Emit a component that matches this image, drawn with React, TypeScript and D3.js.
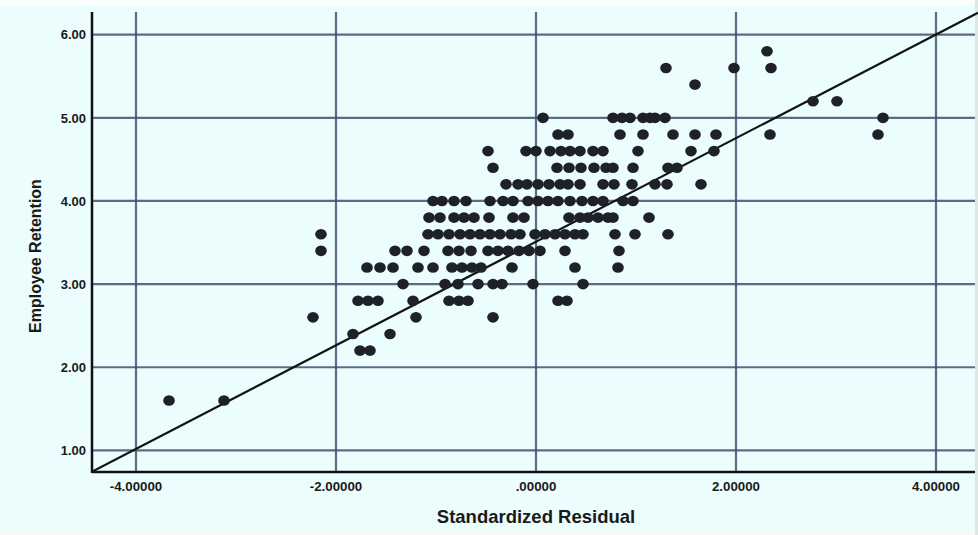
import React, { useEffect, useRef } from 'react';
import * as d3 from 'd3';

// Employee Retention (y) vs Standardized Residual (x), points grouped by retention level
const retentionLevels = [5.8, 5.6, 5.4, 5.2, 5.0, 4.8, 4.6, 4.4, 4.2, 4.0, 3.8, 3.6, 3.4, 3.2, 3.0, 2.8, 2.6, 2.4, 2.2, 1.6];
const residualsByLevel = [
  [2.31],
  [1.3, 1.98, 2.35],
  [1.59],
  [2.77, 3.01],
  [0.07, 0.77, 0.86, 0.94, 1.07, 1.14, 1.19, 1.29, 3.47],
  [0.22, 0.32, 0.84, 1.07, 1.37, 1.59, 1.8, 2.34, 3.42],
  [-0.48, -0.1, 0.0, 0.14, 0.25, 0.34, 0.44, 0.57, 0.67, 1.02, 1.55, 1.78],
  [-0.43, 0.21, 0.33, 0.45, 0.58, 0.7, 0.77, 0.97, 1.32, 1.41],
  [-0.3, -0.18, -0.09, 0.02, 0.13, 0.24, 0.32, 0.44, 0.67, 0.78, 0.96, 1.19, 1.31, 1.65],
  [-1.03, -0.94, -0.82, -0.7, -0.46, -0.33, -0.23, -0.08, 0.02, 0.12, 0.22, 0.34, 0.46, 0.57, 0.67, 0.87, 0.97],
  [-1.07, -0.96, -0.82, -0.72, -0.62, -0.47, -0.23, -0.12, 0.33, 0.44, 0.52, 0.62, 0.72, 0.77, 1.13],
  [-2.15, -1.08, -0.98, -0.87, -0.76, -0.66, -0.56, -0.46, -0.36, -0.25, -0.16, -0.01, 0.09, 0.19, 0.29, 0.39, 0.47, 0.79, 0.99, 1.32],
  [-2.15, -1.41, -1.29, -1.12, -0.88, -0.77, -0.65, -0.48, -0.38, -0.28, -0.17, -0.07, 0.04, 0.29, 0.83],
  [-1.69, -1.56, -1.43, -1.18, -1.03, -0.84, -0.74, -0.64, -0.55, -0.24, 0.39, 0.82],
  [-1.33, -0.91, -0.78, -0.58, -0.43, -0.34, -0.03, 0.47],
  [-1.78, -1.68, -1.58, -1.23, -0.87, -0.77, -0.68, 0.22, 0.31],
  [-2.23, -1.2, -0.43],
  [-1.83, -1.46],
  [-1.76, -1.66],
  [-3.67, -3.12],
];

const xTicks = [-4, -2, 0, 2, 4];
const yTicks = [1, 2, 3, 4, 5, 6];
const xDomain = [-4.44, 4.42];
const yDomain = [0.74, 6.273];

// fit line: retention = intercept + slope * residual
const fitIntercept = 3.51;
const fitSlope = 0.623;

const W = 978;
const H = 535;

const App = () => {
  const svgRef = useRef<SVGSVGElement>(null);

  useEffect(() => {
    const svg = d3.select(svgRef.current);
    svg.selectAll('*').remove();

    const left = 92, right = 978, top = 12, bottom = 472;

    const x = d3.scaleLinear().domain(xDomain).range([left, right]);
    const y = d3.scaleLinear().domain(yDomain).range([bottom, top]);

    // background
    svg.append('rect').attr('width', W).attr('height', H).attr('fill', '#ebfdfd');
    svg.append('rect').attr('width', W).attr('height', 6).attr('fill', '#fbfdfd');
    svg.append('rect').attr('y', 532).attr('width', W).attr('height', 3).attr('fill', '#f6f8f8');
    svg.append('rect').attr('x', 975).attr('width', 3).attr('height', H).attr('fill', '#dfe6e6');

    const gridColor = '#465270';

    // horizontal grid
    svg.selectAll('.hgrid')
      .data(yTicks)
      .join('line')
      .attr('x1', left)
      .attr('x2', 975)
      .attr('y1', d => y(d))
      .attr('y2', d => y(d))
      .attr('stroke', gridColor)
      .attr('stroke-width', 2.2)
      .attr('opacity', 0.85);

    // vertical grid
    svg.selectAll('.vgrid')
      .data(xTicks)
      .join('line')
      .attr('x1', d => x(d))
      .attr('x2', d => x(d))
      .attr('y1', top)
      .attr('y2', bottom)
      .attr('stroke', gridColor)
      .attr('stroke-width', 2.2)
      .attr('opacity', 0.85);

    // axes
    svg.append('line')
      .attr('x1', left).attr('x2', left)
      .attr('y1', top).attr('y2', bottom + 1)
      .attr('stroke', '#111').attr('stroke-width', 2.5);
    svg.append('line')
      .attr('x1', left).attr('x2', 975)
      .attr('y1', bottom).attr('y2', bottom)
      .attr('stroke', '#111').attr('stroke-width', 2.5);

    const font = '"Liberation Sans", Arial, sans-serif';

    // tick labels
    svg.selectAll('.ylab')
      .data(yTicks)
      .join('text')
      .attr('x', 86)
      .attr('y', d => y(d))
      .attr('dy', '0.36em')
      .attr('text-anchor', 'end')
      .style('font-family', font)
      .style('font-weight', 'bold')
      .style('font-size', '13px')
      .style('fill', '#1a1a1a')
      .text(d => d.toFixed(2));

    svg.selectAll('.xlab')
      .data(xTicks)
      .join('text')
      .attr('x', d => x(d))
      .attr('y', 491)
      .attr('text-anchor', 'middle')
      .style('font-family', font)
      .style('font-weight', 'bold')
      .style('font-size', '13.3px')
      .style('fill', '#1a1a1a')
      .text(d => (d === 0 ? '.00000' : d.toFixed(5)));

    // axis titles
    svg.append('text')
      .attr('x', 536)
      .attr('y', 523)
      .attr('text-anchor', 'middle')
      .style('font-family', font)
      .style('font-weight', 'bold')
      .style('font-size', '18.5px')
      .style('fill', '#1a1a1a')
      .text('Standardized Residual');

    svg.append('text')
      .attr('transform', 'translate(41, 256) rotate(-90)')
      .attr('text-anchor', 'middle')
      .style('font-family', font)
      .style('font-weight', 'bold')
      .style('font-size', '16px')
      .style('fill', '#1a1a1a')
      .text('Employee Retention');

    // fit line, clipped to the plot area
    svg.append('clipPath').attr('id', 'plot-clip')
      .append('rect')
      .attr('x', left).attr('y', 0)
      .attr('width', right - left).attr('height', bottom);

    const fitLine = d3.line<number>()
      .x(d => x(d))
      .y(d => y(fitIntercept + fitSlope * d));

    svg.append('path')
      .datum(xDomain)
      .attr('clip-path', 'url(#plot-clip)')
      .attr('fill', 'none')
      .attr('stroke', '#111')
      .attr('stroke-width', 2.2)
      .attr('d', fitLine);

    // points
    const points = retentionLevels.flatMap((level, i) =>
      residualsByLevel[i].map(r => ({ residual: r, retention: level }))
    );

    svg.selectAll('.dot')
      .data(points)
      .join('ellipse')
      .attr('cx', d => x(d.residual))
      .attr('cy', d => y(d.retention))
      .attr('rx', 5.8)
      .attr('ry', 5.3)
      .attr('fill', '#1e2228');
  }, []);

  return (
    <div style={{ position: 'fixed', left: 0, top: 0 }}>
      <svg ref={svgRef} width={W} height={H} style={{ display: 'block' }} />
    </div>
  );
};

export default App;
